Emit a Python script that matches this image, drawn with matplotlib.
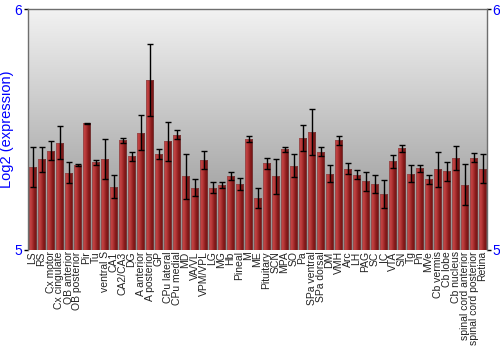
import numpy as np
import matplotlib
matplotlib.use("Agg")
import matplotlib.pyplot as plt
from matplotlib.colors import LinearSegmentedColormap

plt.rcParams['font.family'] = ['Liberation Sans', 'DejaVu Sans']

# tissues and log2 expression (mean +/- error)
tissues = ["LS", "RS", "Cx motor", "Cx cingulate", "OB anterior", "OB posterior", "Pir", "Tu",
           "ventral S", "CA1", "CA2/CA3", "DG", "A anterior", "A posterior", "GP", "CPu lateral",
           "CPu medial", "MD", "VA/VL", "VPM/VPL", "LG", "MG", "Hb", "Pineal", "M", "ME",
           "Pituitary", "SCN", "MPA", "SO", "Pa", "SPa ventral", "SPa dorsal", "DM", "VMH", "Arc",
           "LH", "PAG", "SC", "IC", "VTA", "SN", "Tg", "Pn", "MVe", "Cb vermis", "Cb lobe",
           "Cb nucleus", "spinal cord anterior", "spinal cord posterior", "Retina"]
values = [5.344, 5.376, 5.412, 5.446, 5.321, 5.353, 5.526, 5.363,
          5.378, 5.263, 5.455, 5.388, 5.487, 5.704, 5.398, 5.451,
          5.479, 5.305, 5.259, 5.373, 5.259, 5.268, 5.306, 5.274, 5.461, 5.215,
          5.360, 5.306, 5.417, 5.350, 5.465, 5.490, 5.408, 5.317, 5.455, 5.338,
          5.313, 5.285, 5.273, 5.234, 5.368, 5.422, 5.317, 5.339, 5.293, 5.334, 5.326,
          5.382, 5.270, 5.383, 5.338]
errors = [0.084, 0.051, 0.039, 0.068, 0.045, 0.005, 0.002, 0.010,
          0.083, 0.048, 0.011, 0.019, 0.074, 0.149, 0.021, 0.081,
          0.019, 0.094, 0.035, 0.037, 0.023, 0.012, 0.017, 0.024, 0.012, 0.043,
          0.022, 0.073, 0.012, 0.049, 0.053, 0.097, 0.019, 0.037, 0.020, 0.021,
          0.017, 0.040, 0.037, 0.058, 0.028, 0.015, 0.034, 0.014, 0.019, 0.073, 0.039,
          0.051, 0.085, 0.020, 0.062]
yticks = [5, 6]

fig = plt.figure(figsize=(5, 3.5), dpi=100)
ax = fig.add_axes([0.056, 0.286, 0.918, 0.688])

n = len(tissues)
x = np.arange(n)
xlim = (-0.5, n - 0.5)
ylim = (5, 6)

# grey vertical gradient background
bg = LinearSegmentedColormap.from_list("bg", ["#8e8e8e", "#f2f2f2"])
grad = np.linspace(0, 1, 256).reshape(-1, 1)
ax.imshow(grad, cmap=bg, origin="lower", aspect="auto",
          extent=[xlim[0], xlim[1], ylim[0], ylim[1]], zorder=0)

# bars with horizontal shading
bars = ax.bar(x, np.array(values) - ylim[0], bottom=ylim[0], width=0.88,
              color="none", edgecolor="#7a5050", linewidth=0.4, zorder=2)
barcm = LinearSegmentedColormap.from_list("bar", ["#c94848", "#b83a3a", "#8a1c1c", "#6e1212"])
hgrad = np.linspace(0, 1, 64).reshape(1, -1)
for b in bars:
    bx, by = b.get_x(), b.get_y()
    im = ax.imshow(hgrad, cmap=barcm, aspect="auto",
                   extent=[bx, bx + b.get_width(), by, by + b.get_height()], zorder=1)
    im.set_clip_path(b)

ax.errorbar(x, values, yerr=errors, fmt="none", ecolor="black", elinewidth=1,
            capsize=2.5, capthick=1, zorder=3)

ax.set_xlim(xlim)
ax.set_ylim(ylim)

ax.set_xticks(x)
ax.set_xticklabels(tissues, rotation=90, fontsize=7.5, color="#222222")
ax.tick_params(axis="x", length=0, pad=1)

ax.set_yticks(yticks)
ax.tick_params(axis="y", colors="black", labelcolor="blue", labelsize=10,
               length=3, width=1, left=True, right=True, labelleft=True, labelright=True, pad=1)
ax.set_ylabel("Log2 (expression)", color="blue", fontsize=10.5)
ax.yaxis.set_label_coords(-0.031, 0.5)

for s in ["top", "left", "right"]:
    ax.spines[s].set_color("#6e6e6e")
    ax.spines[s].set_linewidth(1)
ax.spines["bottom"].set_visible(False)

fig.savefig("out.png", dpi=100)
